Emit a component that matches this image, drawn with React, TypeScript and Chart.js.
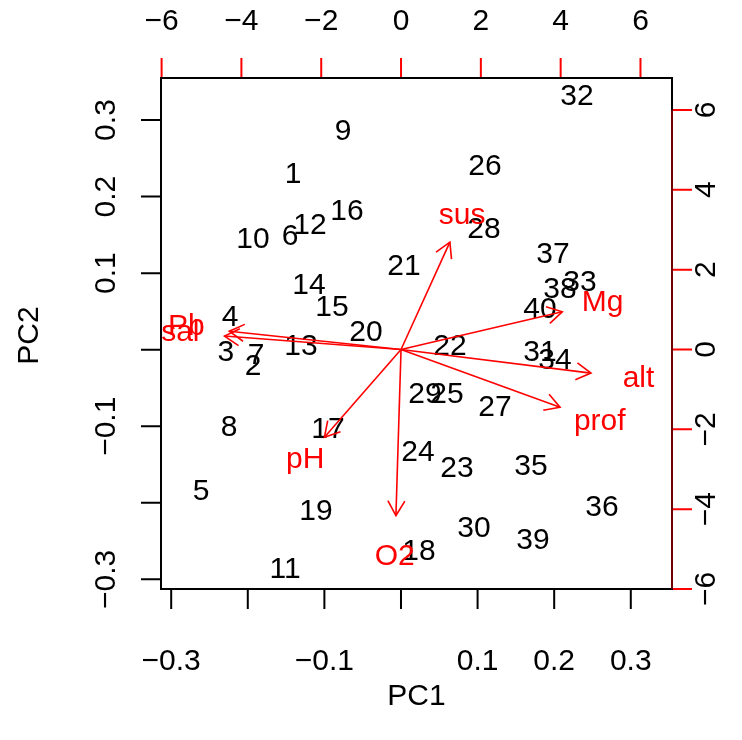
import React, { useEffect, useRef } from "react";
import { Chart, registerables } from "chart.js";

Chart.register(...registerables);

// ---- Observation scores (PC1 / PC2) ----
const obsLabels = [
  "1", "2", "3", "4", "5", "6", "7", "8", "9", "10",
  "11", "12", "13", "14", "15", "16", "17", "18", "19", "20",
  "21", "22", "23", "24", "25", "26", "27", "28", "29", "30",
  "31", "32", "33", "34", "35", "36", "37", "38", "39", "40",
];
const obsPC1 = [
  -0.1410, -0.1932, -0.2285, -0.2232, -0.2611, -0.1449, -0.1893, -0.2245, -0.0757, -0.1932,
  -0.1514, -0.1188, -0.1305, -0.1201, -0.0901, -0.0705, -0.0953, 0.0235, -0.1110, -0.0457,
  0.0039, 0.0640, 0.0731, 0.0222, 0.0601, 0.1097, 0.1227, 0.1084, 0.0313, 0.0953,
  0.1815, 0.2298, 0.2337, 0.2010, 0.1697, 0.2624, 0.1984, 0.2076, 0.1723, 0.1815,
];
const obsPC2 = [
  0.2282, -0.0226, -0.0043, 0.0414, -0.1859, 0.1472, -0.0082, -0.1023, 0.2844, 0.1433,
  -0.2878, 0.1616, 0.0035, 0.0832, 0.0545, 0.1799, -0.1048, -0.2634, -0.2120, 0.0218,
  0.1080, 0.0035, -0.1558, -0.1349, -0.0592, 0.2387, -0.0762, 0.1564, -0.0592, -0.2342,
  -0.0043, 0.3301, 0.0871, -0.0148, -0.1532, -0.2068, 0.1237, 0.0780, -0.2499, 0.0519,
];

// ---- Variable loadings (top / right axis units) ----
const varNames = ["Pb", "sal", "alt", "prof", "Mg", "sus", "pH", "O2"];
const varPC1 = [-5.38, -5.53, 5.95, 4.98, 5.05, 1.53, -2.40, -0.16];
const varPC2 = [0.57, 0.42, -0.74, -1.81, 1.18, 3.36, -2.75, -5.20];

// ---- Axis ticks ----
const bottomTicks = [-0.3, -0.2, -0.1, 0, 0.1, 0.2, 0.3];
const bottomTickLabels = ["−0.3", "", "−0.1", "", "0.1", "0.2", "0.3"];
const leftTicks = [-0.3, -0.2, -0.1, 0, 0.1, 0.2, 0.3];
const leftTickLabels = ["−0.3", "", "−0.1", "", "0.1", "0.2", "0.3"];
const topTicks = [-6, -4, -2, 0, 2, 4, 6];
const topTickLabels = ["−6", "−4", "−2", "0", "2", "4", "6"];
const rightTicks = [-6, -4, -2, 0, 2, 4, 6];
const rightTickLabels = ["−6", "−4", "−2", "0", "2", "4", "6"];
const xTitle = "PC1";
const yTitle = "PC2";

const FONT = '30px "Liberation Sans", Arial, Helvetica, sans-serif';
const RED = "#ff0000";

function drawText(ctx: CanvasRenderingContext2D, t: string, x: number, y: number, color: string, rot = 0) {
  ctx.save();
  ctx.translate(x, y);
  ctx.rotate(rot);
  ctx.fillStyle = color;
  ctx.textAlign = "center";
  ctx.textBaseline = "middle";
  ctx.fillText(t, 0, 0);
  ctx.restore();
}

const biplotPlugin = {
  id: "biplot",
  beforeDatasetsDraw(chart: any) {
    const { ctx, scales } = chart;
    const x = scales.x, y = scales.y;
    ctx.save();
    ctx.font = FONT;
    obsLabels.forEach((lab, i) => {
      drawText(ctx, lab, x.getPixelForValue(obsPC1[i]), y.getPixelForValue(obsPC2[i]), "#000000");
    });
    const x2 = scales.x2, y2 = scales.y2;
    varNames.forEach((n, i) => {
      drawText(ctx, n, x2.getPixelForValue(varPC1[i]), y2.getPixelForValue(varPC2[i]), RED);
    });
    ctx.restore();
  },
  afterDatasetsDraw(chart: any) {
    const { ctx, scales, chartArea } = chart;
    const { left, right, top, bottom } = chartArea;
    const x = scales.x, y = scales.y, x2 = scales.x2, y2 = scales.y2;
    ctx.save();
    // arrow heads
    const ox = x2.getPixelForValue(0), oy = y2.getPixelForValue(0);
    ctx.strokeStyle = RED;
    ctx.lineWidth = 1.6;
    const headLen = 17;
    varNames.forEach((_, i) => {
      const tx = x2.getPixelForValue(0.8 * varPC1[i]);
      const ty = y2.getPixelForValue(0.8 * varPC2[i]);
      const a = Math.atan2(ty - oy, tx - ox);
      ctx.beginPath();
      ctx.moveTo(tx - headLen * Math.cos(a - Math.PI / 6), ty - headLen * Math.sin(a - Math.PI / 6));
      ctx.lineTo(tx, ty);
      ctx.lineTo(tx - headLen * Math.cos(a + Math.PI / 6), ty - headLen * Math.sin(a + Math.PI / 6));
      ctx.stroke();
    });

    ctx.font = FONT;
    const tickLen = 20;
    // top & right axes (red)
    ctx.strokeStyle = RED;
    ctx.lineWidth = 2;
    ctx.beginPath();
    topTicks.forEach((t) => {
      const px = x2.getPixelForValue(t);
      ctx.moveTo(px, top);
      ctx.lineTo(px, top - tickLen);
    });
    rightTicks.forEach((t) => {
      const py = y2.getPixelForValue(t);
      ctx.moveTo(right, py);
      ctx.lineTo(right + tickLen, py);
    });
    ctx.stroke();

    // box
    ctx.strokeStyle = "#000000";
    ctx.lineWidth = 2;
    ctx.strokeRect(left, top, right - left, bottom - top);
    ctx.strokeStyle = "rgba(120,0,0,0.9)";
    ctx.beginPath();
    ctx.moveTo(right, y2.getPixelForValue(rightTicks[0]));
    ctx.lineTo(right, y2.getPixelForValue(rightTicks[rightTicks.length - 1]));
    ctx.stroke();

    // bottom & left ticks (black)
    ctx.strokeStyle = "#000000";
    ctx.beginPath();
    bottomTicks.forEach((t) => {
      const px = x.getPixelForValue(t);
      ctx.moveTo(px, bottom);
      ctx.lineTo(px, bottom + tickLen);
    });
    leftTicks.forEach((t) => {
      const py = y.getPixelForValue(t);
      ctx.moveTo(left, py);
      ctx.lineTo(left - tickLen, py);
    });
    ctx.stroke();

    // tick labels
    bottomTicks.forEach((t, i) => {
      if (bottomTickLabels[i]) drawText(ctx, bottomTickLabels[i], x.getPixelForValue(t), bottom + 73, "#000000");
    });
    leftTicks.forEach((t, i) => {
      if (leftTickLabels[i]) drawText(ctx, leftTickLabels[i], left - 54, y.getPixelForValue(t), "#000000", -Math.PI / 2);
    });
    topTicks.forEach((t, i) => {
      drawText(ctx, topTickLabels[i], x2.getPixelForValue(t), top - 56, "#000000");
    });
    rightTicks.forEach((t, i) => {
      drawText(ctx, rightTickLabels[i], right + 35, y2.getPixelForValue(t), "#000000", -Math.PI / 2);
    });

    // titles
    drawText(ctx, xTitle, (left + right) / 2, bottom + 108, "#000000");
    drawText(ctx, yTitle, left - 131, (top + bottom) / 2 + 2, "#000000", -Math.PI / 2);
    ctx.restore();
  },
};

export default function App() {
  const ref = useRef<HTMLCanvasElement | null>(null);
  useEffect(() => {
    document.body.style.margin = "0";
    const canvas = ref.current!;
    const arrowSets = varNames.map((n, i) => ({
      label: n,
      type: "line" as const,
      xAxisID: "x2",
      yAxisID: "y2",
      data: [
        { x: 0, y: 0 },
        { x: 0.8 * varPC1[i], y: 0.8 * varPC2[i] },
      ],
      borderColor: RED,
      borderWidth: 1.6,
      pointRadius: 0,
      fill: false,
    }));
    const chart = new Chart(canvas, {
      type: "scatter",
      data: {
        datasets: [
          {
            label: "obs",
            data: obsPC1.map((v, i) => ({ x: v, y: obsPC2[i] })),
            xAxisID: "x",
            yAxisID: "y",
            pointRadius: 0,
            showLine: false,
          } as any,
          ...arrowSets,
        ],
      },
      options: {
        responsive: false,
        animation: false,
        devicePixelRatio: 1,
        layout: { padding: { left: 161, right: 70, top: 78, bottom: 151 } },
        plugins: { legend: { display: false }, tooltip: { enabled: false } },
        scales: {
          x: { type: "linear", display: false, min: -0.3133, max: 0.3538 },
          y: { type: "linear", display: false, min: -0.3126, max: 0.3549 },
          x2: { type: "linear", display: false, position: "top", min: -6.015, max: 6.79 },
          y2: { type: "linear", display: false, position: "right", min: -6.0, max: 6.8 },
        },
      },
      plugins: [biplotPlugin],
    });
    return () => chart.destroy();
  }, []);
  return <canvas ref={ref} width={742} height={740} style={{ display: "block" }} />;
}
